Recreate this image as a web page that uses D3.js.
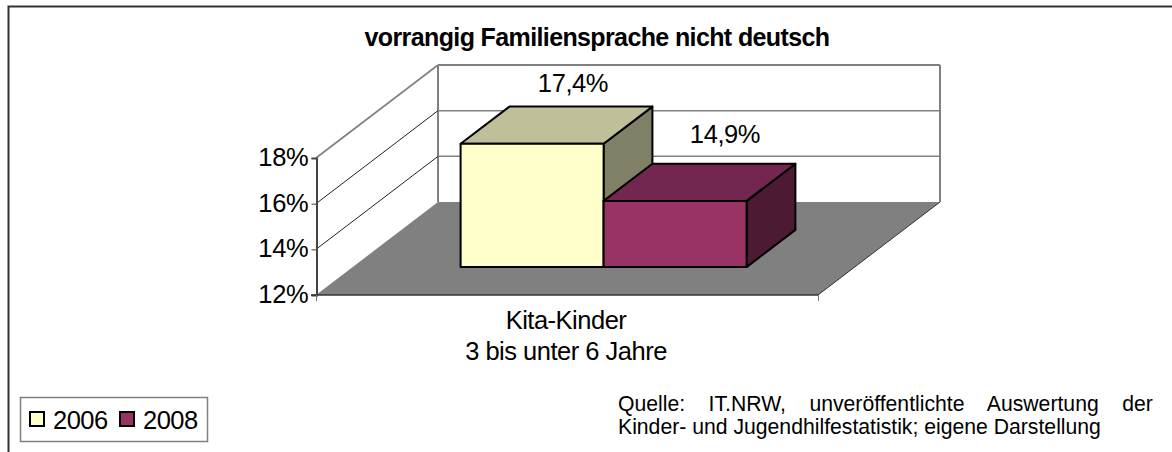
<!DOCTYPE html>
<html lang="de"><head><meta charset="utf-8">
<script src="https://cdn.jsdelivr.net/npm/d3@7"></script>
<style>html,body{margin:0;padding:0;background:#fff}svg{display:block}text{font-family:"Liberation Sans",Arial,sans-serif;fill:#000}</style>
</head><body><svg id="c" width="1172" height="452"></svg>
<script>
const titleText = "vorrangig Familiensprache nicht deutsch";
const categories = ["Kita-Kinder|3 bis unter 6 Jahre"];
const seriesNames = ["2006", "2008"];
const seriesValues = [17.4, 14.9];
const valueLabels = ["17,4%", "14,9%"];
const yTicks = [12, 14, 16, 18];
const frontColors = ["#FFFFCC", "#993366"];
const topColors = ["#BFBF99", "#732650"];
const sideColors = ["#808066", "#4D1A33"];
const sourceLines = ["Quelle: IT.NRW, unveröffentlichte Auswertung der", "Kinder- und Jugendhilfestatistik; eigene Darstellung"];

const svg = d3.select("#c");
const y = d3.scaleLinear().domain([12, 18]).range([295, 158]);
const x0 = d3.scaleBand().domain(categories).range([316, 818]).paddingInner(0).paddingOuter(0);
const x1 = d3.scaleBand().domain(d3.range(seriesNames.length)).range([108, 394]);
// depth: z from 0 (front) to 1 (back wall)
const zx = d3.scaleLinear().domain([0, 1]).range([0, 122]);
const zy = d3.scaleLinear().domain([0, 1]).range([0, -93]);
const P = (px, v, z) => [px + zx(z), y(v) + zy(z)];
const path = pts => d3.line()(pts) + "Z";
const zFront = 0.3, zBack = 0.7;
const xL = 316, xR = 818;

// outer frame
svg.append("path").attr("d", "M8.5,452V6.5H1172").attr("fill", "none").attr("stroke", "#333").attr("stroke-width", 2);

// title
svg.append("text").attr("x", 597).attr("y", 46).attr("text-anchor", "middle")
  .attr("font-size", 25).attr("font-weight", "bold").attr("letter-spacing", -0.62).text(titleText);

// floor
svg.append("path").attr("d", path([P(xL,12,0), P(xL,12,1), P(xR,12,1), P(xR,12,0)])).attr("fill", "#808080");

// back wall
const wall = svg.append("g");
wall.selectAll("line.back").data(yTicks.slice(1)).join("line").attr("class","back")
  .attr("x1", P(xL,0,1)[0]).attr("x2", P(xR,0,1)[0])
  .attr("y1", d => P(xL,d,1)[1]).attr("y2", d => P(xL,d,1)[1])
  .attr("stroke", "#808080").attr("stroke-width", d => d === 18 ? 2 : 1.5);
[xL, xR].forEach(px => wall.append("line")
  .attr("x1", P(px,12,1)[0]).attr("x2", P(px,18,1)[0])
  .attr("y1", P(px,12,1)[1]).attr("y2", P(px,18,1)[1])
  .attr("stroke", "#808080").attr("stroke-width", 2));

// side wall gridlines
wall.selectAll("line.side").data(yTicks.slice(1)).join("line").attr("class","side")
  .attr("x1", P(xL,0,0)[0]).attr("x2", P(xL,0,1)[0])
  .attr("y1", d => P(xL,d,0)[1]).attr("y2", d => P(xL,d,1)[1])
  .attr("stroke", d => d === 18 ? "#808080" : "#222").attr("stroke-width", d => d === 18 ? 1.6 : 1);

// floor right edge
svg.append("line").attr("x1", P(xR,12,0)[0]).attr("y1", P(xR,12,0)[1]).attr("x2", P(xR,12,1)[0]).attr("y2", P(xR,12,1)[1]).attr("stroke", "#333").attr("stroke-width", 1);

// axes
const yAxis = d3.axisLeft(y).tickValues(yTicks).tickFormat(d => d + "%").tickSize(5).tickPadding(3);
const gy = svg.append("g").attr("transform", `translate(${xL + 0.5},0)`).call(yAxis);
gy.select(".domain").attr("stroke", "#444").attr("stroke-width", 2);
gy.selectAll(".tick line").attr("stroke", "#444");
gy.selectAll(".tick text").attr("font-size", 25.5).attr("font-family", '"Liberation Sans",Arial,sans-serif').attr("fill", "#000").attr("letter-spacing", -0.25).attr("dy", "0.3em");
svg.append("line").attr("x1", xL - 5).attr("x2", xR).attr("y1", y(12)).attr("y2", y(12)).attr("stroke", "#333").attr("stroke-width", 1.6);
svg.append("line").attr("x1", xL + 0.5).attr("x2", xL + 0.5).attr("y1", y(12)).attr("y2", y(12) + 6).attr("stroke", "#777");
svg.append("line").attr("x1", xR + 0.5).attr("x2", xR + 0.5).attr("y1", y(12)).attr("y2", y(12) + 6).attr("stroke", "#777");

// bars
const band = x0(categories[0]);
const bars = svg.append("g").attr("stroke", "#000").attr("stroke-width", 2).attr("stroke-linejoin", "round");
seriesValues.forEach((v, i) => {
  const a = band + x1(i), b = a + x1.bandwidth();
  bars.append("path").attr("d", path([P(b,12,zFront), P(b,12,zBack), P(b,v,zBack), P(b,v,zFront)])).attr("fill", sideColors[i]);
  bars.append("path").attr("d", path([P(a,v,zFront), P(a,v,zBack), P(b,v,zBack), P(b,v,zFront)])).attr("fill", topColors[i]);
  bars.append("path").attr("d", path([P(a,12,zFront), P(a,v,zFront), P(b,v,zFront), P(b,12,zFront)])).attr("fill", frontColors[i]);
});

// value labels
const labelX = [573, 725], labelY = [92, 143];
svg.selectAll("text.val").data(valueLabels).join("text").attr("class","val")
  .attr("x", (d,i) => labelX[i]).attr("y", (d,i) => labelY[i]).attr("text-anchor", "middle")
  .attr("font-size", 25.5).attr("letter-spacing", -0.4).text(d => d);

// category label
const catLines = categories[0].split("|");
svg.selectAll("text.cat").data(catLines).join("text").attr("class","cat")
  .attr("x", 566).attr("y", (d,i) => 329 + i * 31).attr("text-anchor", "middle")
  .attr("font-size", 25.5).attr("letter-spacing", -0.5).text(d => d);

// legend
svg.append("rect").attr("x", 20.5).attr("y", 397.5).attr("width", 187).attr("height", 44).attr("fill", "#fff").attr("stroke", "#808080").attr("stroke-width", 1.5);
const legendSwatchX = [30, 120], legendTextX = [53, 143];
seriesNames.forEach((n, i) => {
  svg.append("rect").attr("x", legendSwatchX[i]).attr("y", 412).attr("width", 14).attr("height", 14)
    .attr("fill", frontColors[i]).attr("stroke", "#000").attr("stroke-width", 2);
  svg.append("text").attr("x", legendTextX[i]).attr("y", 429).attr("font-size", 25.5).attr("letter-spacing", -0.5).text(n);
});

// source, first line justified
svg.append("text").attr("x", 618).attr("y", 411).attr("font-size", 21.2).attr("word-spacing", 17.6).text(sourceLines[0]);
svg.append("text").attr("x", 618).attr("y", 434).attr("font-size", 21.2).text(sourceLines[1]);
</script></body></html>
